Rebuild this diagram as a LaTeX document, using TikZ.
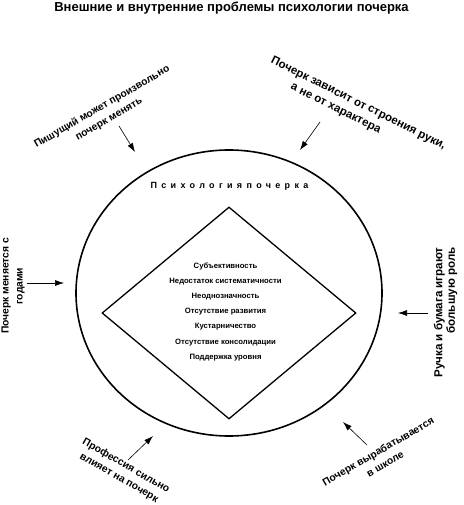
\documentclass[tikz,border=0pt]{standalone}
\usepackage{fontspec}
\setmainfont{Liberation Sans}
\usetikzlibrary{arrows.meta,shapes.geometric}
\begin{document}
\begin{tikzpicture}[x=1pt,y=-1pt,
  lbl/.style={font=\fontsize{10.3}{14}\selectfont\bfseries, inner sep=0pt, align=center},
  inner/.style={font=\fontsize{7.7}{15.2}\selectfont\bfseries, align=center, inner sep=0pt},
  arr/.style={line width=0.6pt, -{Latex[length=9pt,width=6pt]}}]
\useasboundingbox (0,0) rectangle (463,505);
\node[font=\fontsize{13}{15}\selectfont\bfseries, inner sep=0pt] (title) at (231.5,8) {Внешние и внутренние проблемы психологии почерка};
\node[draw, ellipse, line width=1.6pt, minimum width=306pt, minimum height=286pt, inner sep=0pt] (circ) at (229,293) {};
\node[draw, diamond, line width=1.3pt, minimum width=254pt, minimum height=212pt, inner sep=0pt] (dia) at (229,313) {};
\node[font=\fontsize{9}{11}\selectfont\bfseries\addfontfeature{LetterSpace=48}, inner sep=0pt] (head) at (229.5,186) {Психологияпочерка};
\node[inner] (list) at (225.5,311.7) {Субъективность\\Недостаток систематичности\\Неоднозначность\\Отсутствие развития\\Кустарничество\\Отсутствие консолидации\\Поддержка уровня};
% label 1
\node[lbl, rotate=30] (l1) at (105.5,113) {Пишущий может произвольно\\почерк менять};
\coordinate (a1s) at (119,126); \coordinate (a1e) at (135,152);
\draw[arr] (a1s) -- (a1e);
% label 2
\node[lbl, rotate=-26.5, font=\fontsize{11.5}{14.5}\selectfont\bfseries] (l2) at (355,110) {Почерк зависит от строения руки,\\а не от характера\hspace*{36pt}};
\coordinate (a2s) at (320,122); \coordinate (a2e) at (300,150);
\draw[arr] (a2s) -- (a2e);
% label 3
\node[lbl, rotate=90] (l3) at (13,286) {Почерк меняется с\\годами};
\coordinate (a3s) at (27,283); \coordinate (a3e) at (64,283);
\draw[arr] (a3s) -- (a3e);
% label 4
\node[lbl, rotate=90, align=right, font=\fontsize{11.6}{12.5}\selectfont\bfseries] (l4) at (445.5,312.5) {Ручка и бумага играют\\большую роль};
\coordinate (a4s) at (428,313); \coordinate (a4e) at (398,313);
\draw[arr] (a4s) -- (a4e);
% label 5
\node[lbl, rotate=-30] (l5) at (122.5,472) {Профессия сильно\\влияет на почерк};
\coordinate (a5s) at (128,460); \coordinate (a5e) at (153,436);
\draw[arr] (a5s) -- (a5e);
% label 6
\node[lbl, rotate=30] (l6) at (381.5,457.5) {Почерк вырабатывается\\в школе};
\coordinate (a6s) at (367,445); \coordinate (a6e) at (343,422);
\draw[arr] (a6s) -- (a6e);
\end{tikzpicture}
\end{document}
